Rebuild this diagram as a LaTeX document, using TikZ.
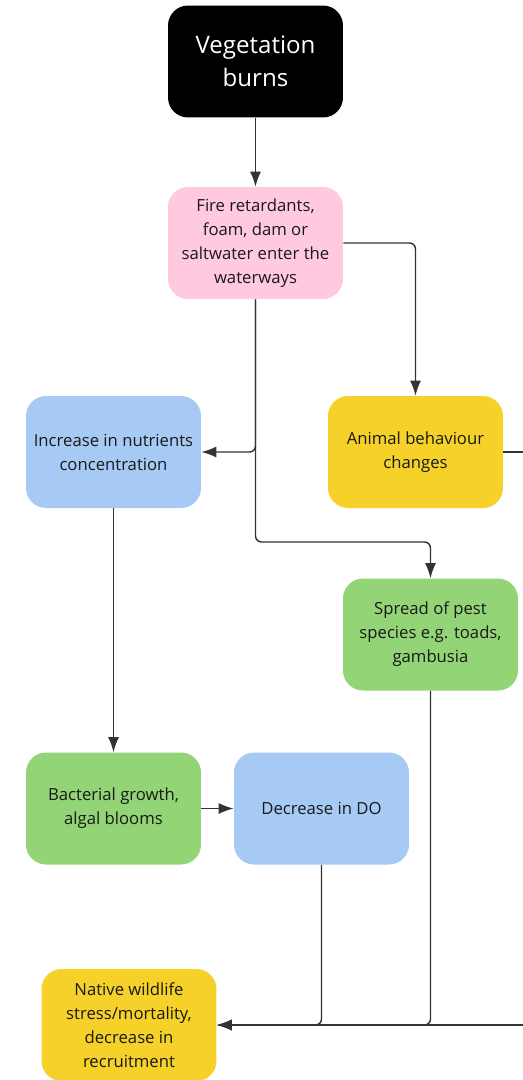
\documentclass[tikz,border=0pt]{standalone}
\usepackage{fontspec}
\setmainfont{Open Sans}
\usetikzlibrary{arrows.meta}

\definecolor{firepink}{HTML}{FFC9DF}
\definecolor{waterblue}{HTML}{A6CAF4}
\definecolor{animalyellow}{HTML}{F5D12A}
\definecolor{pestgreen}{HTML}{93D476}
\definecolor{linegray}{HTML}{333333}

\tikzset{
  box/.style={rounded corners=0.4cm, minimum width=3.5cm, minimum height=2.24cm,
    align=center, text=black!90, font=\fontsize{9.5}{13.6}\selectfont},
  link/.style={draw=linegray, line width=0.8pt, rounded corners=0.12cm,
    -{Latex[length=3mm,width=2.2mm]}},
  plain/.style={draw=linegray, line width=0.8pt, rounded corners=0.12cm}
}

\begin{document}
\begin{tikzpicture}[x=0.02cm, y=-0.02cm]

	\useasboundingbox (0,0) rectangle (523,1080);

	\node[box, fill=black, text=white, font=\fontsize{13.7}{19}\selectfont]
	  (burn) at (255.5,61.5) {Vegetation\\burns};
	\node[box, fill=firepink] (fire) at (255.5,243)
	  {Fire retardants,\\foam, dam or\\saltwater enter the\\waterways};
	\node[box, fill=waterblue] (nutr) at (113.5,452)
	  {Increase in nutrients\\concentration};
	\node[box, fill=animalyellow] (anim) at (415.5,452)
	  {Animal behaviour\\changes};
	\node[box, fill=pestgreen] (pest) at (430.5,634.5)
	  {Spread of pest\\species e.g. toads,\\gambusia};
	\node[box, fill=pestgreen] (bact) at (113.5,808.5)
	  {Bacterial growth,\\algal blooms};
	\node[box, fill=waterblue] (do) at (321.5,808.5)
	  {Decrease in DO};
	\node[box, fill=animalyellow] (wild) at (129,1025)
	  {Native wildlife\\stress/mortality,\\decrease in\\recruitment};

	% line leaving and coming back at the right edge
	\coordinate (edgeA) at (523,452);
	\coordinate (edgeB) at (523,1025);
	\coordinate (split) at (255.5,542);

	\draw[link] (burn) -- (fire);
	\draw[link] (fire.east) -| (anim.north);
	\draw[link] (fire.south) |- (nutr.east);
	\draw[link] (fire.south) -- (split) -| (pest.north);
	\draw[link] (nutr) -- (bact);
	\draw[link] (bact) -- (do);
	\draw[link] (do.south) |- (wild.east);
	\draw[link] (pest.south) |- (wild.east);
	\draw[plain] (anim.east) -- (edgeA);
	\draw[link] (edgeB) -- (wild.east);

\end{tikzpicture}
\end{document}
